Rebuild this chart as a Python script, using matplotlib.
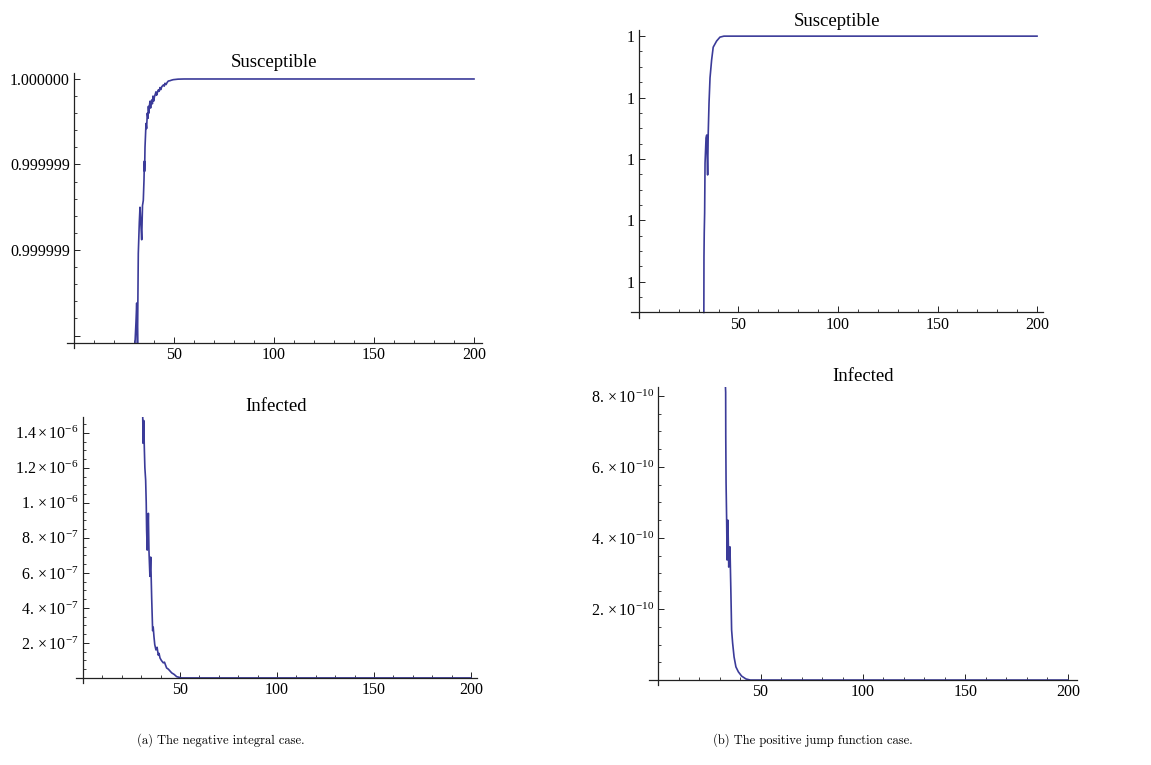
import numpy as np
import matplotlib
matplotlib.use("Agg")
import matplotlib.pyplot as plt
from matplotlib.ticker import FixedLocator, FixedFormatter, MultipleLocator

plt.rcParams["font.family"] = ["Liberation Serif", "DejaVu Serif"]
plt.rcParams["mathtext.fontset"] = "custom"
plt.rcParams["mathtext.rm"] = "Liberation Serif"
plt.rcParams["mathtext.it"] = "Liberation Serif:italic"

# ---- data ----
# (a) negative integral case, Susceptible: deficit 1 - S in units of 1e-7
t_sus_a = [30.5, 31.0, 31.35, 31.75, 32.15, 32.65, 33.0, 33.4, 33.85, 34.25,
           34.65, 35.0, 35.2, 35.3, 35.5, 36.0, 36.3, 36.65, 37.0, 37.2,
           37.4, 37.65, 38.0, 38.3, 38.6, 38.85, 39.2, 39.5, 39.8, 40.2,
           40.5, 41.0, 41.3, 41.7, 42.15, 42.6, 43.0, 43.4, 43.9, 44.65,
           45.1, 45.5, 46.0, 46.6, 47.15, 48.0, 48.7, 49.65, 52.0, 55.0, 200.0]
d_sus_a = [16.0, 14.2, 13.1, 15.5, 10.2, 8.4, 7.5, 8.4, 9.4, 7.4,
           7.1, 5.9, 4.8, 5.4, 4.0, 2.6, 2.9, 2.0, 2.3, 1.6,
           2.0, 1.64, 1.3, 1.7, 1.4, 1.23, 1.45, 1.0, 1.3, 1.05,
           0.94, 0.75, 0.95, 0.8, 0.64, 0.72, 0.5, 0.62, 0.45, 0.35,
           0.42, 0.25, 0.33, 0.2, 0.12, 0.1, 0.07, 0.04, 0.01, 0.0, 0.0]

# (a) Infected, in units of 1e-7
t_inf_a = [30.8, 31.0, 31.3, 31.6, 31.9, 32.3, 32.6, 32.8, 33.1, 33.4,
           33.7, 34.0, 34.5, 34.9, 35.4, 35.9, 36.2, 36.6, 37.0, 37.6,
           38.2, 38.8, 39.2, 39.7, 40.4, 41.4, 42.0, 43.1, 44.0, 45.7,
           47.0, 48.3, 50.9, 55.0, 200.0]
v_inf_a = [16.0, 13.4, 14.7, 13.2, 12.0, 11.3, 10.0, 8.46, 7.3, 8.2,
           9.4, 7.3, 5.8, 6.9, 4.6, 2.7, 2.9, 2.34, 1.9, 1.6,
           1.75, 1.3, 1.4, 1.14, 1.0, 0.86, 0.9, 0.57, 0.5, 0.29,
           0.2, 0.07, 0.0, 0.0, 0.0]

# (b) positive jump function case, Susceptible: deficit in plot units
t_sus_b = [32.6, 32.66, 32.8, 33.0, 33.2, 33.7, 34.05, 34.3, 34.5, 34.8,
           35.2, 35.7, 36.5, 37.3, 39.0, 40.7, 42.7, 200.0]
d_sus_b = [5.0, 3.6, 3.2, 2.88, 2.07, 1.66, 1.61, 2.0, 2.26, 1.58,
           1.09, 0.68, 0.39, 0.18, 0.08, 0.016, 0.0, 0.0]

# (b) Infected, in units of 1e-10
t_inf_b = [32.9, 33.0, 33.05, 33.2, 33.5, 33.7, 34.1, 34.5, 34.8, 35.1,
           35.5, 35.9, 36.4, 37.1, 38.0, 39.2, 40.8, 42.9, 45.0, 200.0]
v_inf_b = [9.0, 8.1, 6.85, 5.55, 4.42, 3.38, 4.5, 3.18, 3.6, 3.75,
           2.62, 1.41, 1.04, 0.65, 0.37, 0.23, 0.11, 0.03, 0.0, 0.0]

x_major = [50, 100, 150, 200]
x_labels = ["50", "100", "150", "200"]

ya_sus_ticks = [1.0, 1.0 - 5e-7, 1.0 - 10e-7, 1.0 - 15e-7]
ya_sus_labels = ["1.000000", "0.999999", "0.999999", ""]
ya_inf_ticks = [0.0, 2e-7, 4e-7, 6e-7, 8e-7, 1e-6, 1.2e-6, 1.4e-6]
ya_inf_labels = ["", r"$2.\times10^{-7}$", r"$4.\times10^{-7}$", r"$6.\times10^{-7}$",
                 r"$8.\times10^{-7}$", r"$1.\times10^{-6}$", r"$1.2\times10^{-6}$",
                 r"$1.4\times10^{-6}$"]
yb_sus_ticks = [0, 1, 2, 3, 4]
yb_sus_labels = ["1", "1", "1", "1", "1"]
yb_inf_ticks = [0.0, 2e-10, 4e-10, 6e-10, 8e-10]
yb_inf_labels = ["", r"$2.\times10^{-10}$", r"$4.\times10^{-10}$",
                 r"$6.\times10^{-10}$", r"$8.\times10^{-10}$"]

LINE = "#3b3b99"
W, H = 1151, 765

fig = plt.figure(figsize=(W / 100, H / 100), dpi=100)


def px_axes(left, top, right, bottom):
    return fig.add_axes([left / W, 1 - bottom / H, (right - left) / W, (bottom - top) / H])


def style(ax, xlim, ylim, ycross, yticks, ylabels, yminor, title, tpad):
    ax.set_xlim(*xlim)
    ax.set_ylim(*ylim)
    for s in ["top", "right"]:
        ax.spines[s].set_visible(False)
    ax.spines["left"].set_position(("data", 0))
    ax.spines["bottom"].set_position(("data", ycross))
    for s in ["left", "bottom"]:
        ax.spines[s].set_linewidth(0.9)
        ax.spines[s].set_color("#222222")
    ax.xaxis.set_major_locator(FixedLocator(x_major))
    ax.xaxis.set_major_formatter(FixedFormatter(x_labels))
    ax.xaxis.set_minor_locator(MultipleLocator(10))
    ax.yaxis.set_major_locator(FixedLocator(yticks))
    ax.yaxis.set_major_formatter(FixedFormatter(ylabels))
    ax.yaxis.set_minor_locator(MultipleLocator(yminor))
    ax.tick_params(which="major", direction="in", length=4.5, width=0.7,
                   labelsize=11.5, pad=3, color="#222222")
    ax.tick_params(which="minor", direction="in", length=2.5, width=0.6, color="#222222")
    ax.set_title(title, fontsize=13.5, pad=tpad)
    ax.patch.set_alpha(0)


# (a) Susceptible
ax1 = px_axes(67, 73, 482, 348)
ax1.plot(t_sus_a, 1.0 - np.minimum(d_sus_a, 15.44) * 1e-7, color=LINE, lw=1.2)
style(ax1, (-3.5, 204), (1.0 - 15.73e-7, 1.0 + 0.35e-7), 1.0 - 15.44e-7,
      ya_sus_ticks, ya_sus_labels, 1e-7, "Susceptible", 4)

# (a) Infected
ax2 = px_axes(76, 417, 477, 683)
ax2.plot(t_inf_a, np.minimum(v_inf_a, 14.9) * 1e-7, color=LINE, lw=1.2)
style(ax2, (-3.6, 203.1), (-0.29e-7, 14.9e-7), 0.0,
      ya_inf_ticks, ya_inf_labels, 0.5e-7, "Infected", 4)

# (b) Susceptible
ax3 = px_axes(631, 30, 1043, 318)
ax3.plot(t_sus_b, -np.minimum(d_sus_b, 4.5), color=LINE, lw=1.2)
style(ax3, (-4.0, 203), (-4.59, 0.1), -4.5,
      [-v for v in yb_sus_ticks], yb_sus_labels, 0.25, "Susceptible", 2)

# (b) Infected
ax4 = px_axes(649, 387, 1077, 685)
ax4.plot(t_inf_b, np.minimum(v_inf_b, 8.25) * 1e-10, color=LINE, lw=1.2)
style(ax4, (-4.4, 204.4), (-0.14e-10, 8.25e-10), 0.0,
      yb_inf_ticks, yb_inf_labels, 0.5e-10, "Infected", 4)

fig.text(221 / W, 1 - 740 / H, "(a) The negative integral case.", family="cmr10",
         fontsize=9, ha="center", va="center")
fig.text(813 / W, 1 - 740 / H, "(b) The positive jump function case.", family="cmr10",
         fontsize=9, ha="center", va="center")

fig.savefig("out.png", dpi=100)
